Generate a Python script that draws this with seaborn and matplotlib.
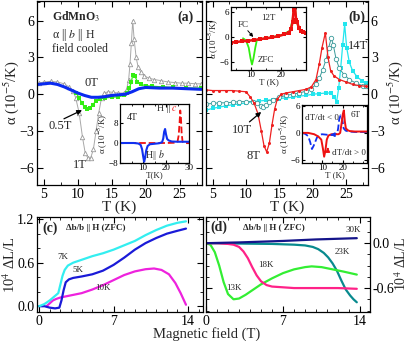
import numpy as np
import seaborn as sns
import matplotlib.pyplot as plt
from matplotlib.ticker import MultipleLocator, FixedLocator

# ---------------------------------------
# data
# ---------------------------------------
# (a) alpha || b || H, field cooled
T_0T = [4.2, 5, 6, 7, 8, 9, 10, 11, 12, 13, 14, 15, 16, 17, 18, 19, 20, 22, 24, 26, 28.2]
a_0T = [0.8, 0.85, 0.9, 0.8, 0.6, 0.35, 0.1, -0.1, -0.25, -0.25, -0.2, -0.1, -0.05, 0.0, 0.2, 0.45, 0.55, 0.5, 0.5, 0.45, 0.4]

T_05T = [9.8, 10.2, 10.6, 11.0, 11.4, 11.8, 12.2, 12.7, 13.3, 14, 15, 16, 16.8, 17.3, 17.6, 17.9, 18.1, 18.4, 18.8, 19.3, 20, 21, 22.5, 24, 26, 28.2]
a_05T = [0.1, -0.3, -0.7, -1.05, -1.2, -1.1, -0.85, -0.55, -0.4, -0.3, -0.25, -0.2, -0.1, 0.1, 0.5, 1.0, 1.6, 1.5, 1.0, 0.8, 0.7, 0.65, 0.6, 0.55, 0.5, 0.5]

T_1T = [4.3, 5, 6, 7, 8, 8.7, 9.3, 9.7, 10.2, 10.7, 11.1, 11.5, 11.9, 12.3, 12.7, 13.1, 13.5, 13.9, 14.5, 15.2, 16, 16.8, 17.2, 17.5, 17.7, 17.9, 18.1, 18.3, 18.6, 18.9, 19.3, 19.8, 20.5, 21.3, 22.3, 23.3, 24.3, 25.3, 26.3, 27.3, 28.2]
a_1T = [0.9, 1.0, 1.05, 1.0, 0.85, 0.6, 0.3, -0.3, -1.5, -3.5, -4.8, -5.2, -5.2, -4.5, -3.0, -1.5, -0.3, 0.1, 0.2, 0.15, 0.1, 0.1, 0.4, 1.2, 2.5, 4.2, 6.0, 4.5, 3.0, 2.2, 1.8, 1.5, 1.3, 1.2, 1.1, 1.0, 0.95, 0.9, 0.9, 0.85, 0.85]

# (a) inset, 4T
Ti_b = [0, 2, 4, 6, 8, 9, 9.6, 10.1, 10.5, 10.9, 11.4, 12, 13, 15, 17, 18.3, 18.8, 19.2, 19.6, 20.0, 20.5, 21.2, 22.5, 25, 27.5, 30]
ai_b = [0, 0, 0, 0, -0.2, -0.8, -2.5, -5.5, -7.5, -6, -3, -1.2, -0.5, -0.3, -0.1, 0.3, 1.8, 4.5, 5.6, 3.5, 1.6, 1.0, 0.6, 0.5, 0.5, 0.5]
Ti_c = [0, 5, 10, 15, 20, 24, 25, 25.5, 25.9, 26.2, 26.5, 26.8, 27.2, 28, 30]
ai_c = [0, 0, 0, 0, 0, 0.1, 0.5, 3, 8, 13, 10, 4, 0.5, 0, 0]

# (b) high fields
T_8T = [4, 5, 6, 7, 8, 9, 10, 10.6, 11.2, 11.8, 12.3, 12.7, 13.1, 13.5, 13.9, 14.3, 14.7, 15.3, 16, 17, 18, 19, 19.8, 20.5, 21.0, 21.4, 21.9, 22.3, 22.7, 23.2, 24, 25, 26, 27, 28]
a_8T = [0.35, 0.3, 0.3, 0.3, 0.3, 0.25, 0.2, -0.2, -0.7, -1.6, -3.0, -4.2, -4.7, -4.0, -2.5, -1.2, -0.4, 0.0, 0.1, 0.2, 0.3, 0.4, 0.6, 1.2, 2.5, 3.8, 5.0, 3.0, 1.9, 1.5, 1.2, 1.0, 0.8, 0.7, 0.65]

T_10T = [4, 5, 6, 7, 8, 9, 10, 11, 11.7, 12.2, 12.6, 13.0, 13.5, 14, 15, 16, 17, 18, 19, 19.8, 20.5, 21.0, 21.5, 22.0, 22.4, 22.8, 23.1, 23.5, 24, 24.7, 25.5, 26.5, 27.5, 28]
a_10T = [-0.8, -0.75, -0.7, -0.7, -0.65, -0.6, -0.6, -0.6, -0.75, -0.95, -1.05, -0.9, -0.6, -0.45, -0.25, -0.1, 0.0, 0.1, 0.25, 0.45, 0.8, 1.3, 2.0, 2.8, 3.8, 4.6, 4.0, 2.9, 2.1, 1.6, 1.2, 0.9, 0.7, 0.65]

T_14T = [4, 5, 6, 7, 8, 9, 10, 11, 12, 13, 14, 15, 16, 17, 18, 19, 20, 21, 22, 22.7, 23.2, 23.6, 23.9, 24.2, 24.5, 24.8, 25.1, 25.5, 26, 26.7, 27.4, 28]
a_14T = [-1.3, -1.15, -1.05, -0.95, -0.85, -0.8, -0.7, -0.6, -0.55, -0.5, -0.45, -0.35, -0.3, -0.25, -0.15, -0.1, 0.0, 0.05, 0.1, 0.1, -0.2, -0.6, 0.5, 2.1, 4.0, 5.7, 3.8, 2.6, 1.9, 1.4, 1.1, 0.9]

# (b) top inset, 12T
T_fc = [3.3, 5, 7, 9, 11, 13, 15, 17, 19, 21, 22.5, 23.3, 23.8, 24.2, 24.6, 25.0, 25.4, 25.9, 26.5, 27.3, 28.3]
a_fc = [-1.3, -1.2, -1.0, -0.9, -0.7, -0.5, -0.3, -0.1, 0.2, 0.6, 1.0, 1.8, 3.5, 6.5, 7.5, 4.0, 3.5, 2.1, 1.5, 1.1, 1.0]
T_zfc = [7.3, 8.3, 9.2, 9.8, 10.3, 10.8, 11.4, 11.9, 12.5, 15, 20, 23, 23.8, 24.3, 24.6, 25.0, 25.5, 26.5, 28.3]
a_zfc = [-0.3, -0.8, -2.5, -5, -6.5, -5, -2.5, -0.8, -0.5, -0.3, 0.4, 1.5, 4, 7, 7.5, 4, 3, 1.5, 1.0]

# (b) bottom inset, 6T
T_up = [0, 3, 6, 8, 9.5, 10.3, 10.9, 11.5, 12.2, 13, 14.5, 16, 18, 18.8, 19.6, 20.1, 20.6, 21.1, 21.6, 22.5, 23.5, 26, 29, 32]
a_up = [0, 0, -0.3, -0.8, -1.5, -3.5, -5.3, -4.0, -1.5, -0.6, -0.3, -0.3, -0.3, 0.0, 2.5, 4.2, 5.0, 2.5, 1.0, 0.6, 0.4, 0.3, 0.3, 0.3]
T_dn = [0, 1.5, 3, 4, 4.9, 5.8, 7.4, 8.5, 9.8, 12, 14, 16, 17.3, 17.8, 18.3, 19.0, 19.6, 20.0, 20.5, 21.5, 22.9, 26, 29, 32]
a_dn = [0, -0.2, -0.7, -2.0, -3.6, -2.8, -1.0, -0.5, -0.3, -0.4, -0.5, -0.4, -0.2, 1.0, 3.0, 3.9, 3.8, 2.5, 1.0, 0.5, 0.3, 0.2, 0.2, 0.2]

# (c) magnetostriction, ZFC
H_7K = [0, 0.5, 1.0, 1.4, 1.8, 2.0, 2.2, 2.4, 2.7, 3.2, 4, 5, 6, 7, 8, 9, 10, 11, 12, 13, 13.8]
L_7K = [0, 0.03, 0.08, 0.13, 0.18, 0.3, 0.42, 0.5, 0.56, 0.6, 0.64, 0.69, 0.73, 0.78, 0.84, 0.9, 0.98, 1.05, 1.11, 1.15, 1.17]
H_5K = [0, 0.5, 1.0, 1.5, 1.9, 2.1, 2.3, 2.5, 2.8, 3.2, 4, 5, 6, 7, 8, 9, 10, 11, 12, 13, 13.8]
L_5K = [0, 0, -0.02, -0.03, -0.02, 0.08, 0.22, 0.33, 0.37, 0.39, 0.41, 0.44, 0.49, 0.57, 0.67, 0.78, 0.87, 0.94, 1.0, 1.04, 1.07]
H_10K = [0.7, 1.0, 1.3, 1.6, 2.0, 3, 4, 5, 6, 7, 8, 9, 10, 10.8, 11.5, 12.2, 12.8, 13.3, 13.8]
L_10K = [0, 0.04, 0.08, 0.1, 0.12, 0.15, 0.18, 0.23, 0.29, 0.36, 0.43, 0.48, 0.51, 0.52, 0.5, 0.44, 0.32, 0.18, 0.02]

# (d)
H_30K = [0, 3, 7, 10, 13.7]
L_30K = [0, 0.01, 0.03, 0.05, 0.067]
H_13K = [0, 0.4, 0.8, 1.2, 1.6, 2.0, 2.5, 3.0, 3.6, 4.3, 5, 6, 7, 8, 9, 9.6, 10.5, 11.5, 12.5, 13.7]
L_13K = [0, -0.02, -0.12, -0.3, -0.52, -0.68, -0.75, -0.74, -0.69, -0.62, -0.55, -0.47, -0.4, -0.35, -0.32, -0.31, -0.32, -0.35, -0.38, -0.42]
H_18K = [0, 1, 2, 2.5, 3.0, 3.4, 3.8, 4.2, 4.6, 5.0, 5.5, 6, 7, 8, 10, 12, 13.7]
L_18K = [0, 0, -0.01, -0.02, -0.05, -0.11, -0.2, -0.32, -0.43, -0.51, -0.56, -0.58, -0.59, -0.6, -0.6, -0.6, -0.61]
H_23K = [0, 3, 6, 8, 9, 9.7, 10.2, 10.7, 11.1, 11.5, 11.9, 12.3, 12.7, 13.1, 13.4, 13.7]
L_23K = [0, -0.005, -0.01, -0.02, -0.03, -0.05, -0.08, -0.13, -0.19, -0.27, -0.37, -0.5, -0.62, -0.7, -0.75, -0.79]

# ---------------------------------------
# style
# ---------------------------------------
sns.set_style("ticks")
plt.rcParams["font.family"] = ["Liberation Serif", "DejaVu Serif"]
plt.rcParams["mathtext.fontset"] = "stix"
plt.rcParams["axes.linewidth"] = 0.9
plt.rcParams["axes.edgecolor"] = "black"

W, H = 409, 341
fig = plt.figure(figsize=(W / 100, H / 100), dpi=100)


def box(l, t, r, b):
    return [l / W, 1 - b / H, (r - l) / W, (b - t) / H]


def style(ax, size=10, major=4, minor=2):
    ax.tick_params(which="both", direction="in", top=True, right=True,
                   labelsize=size, pad=2, colors="black")
    ax.tick_params(which="major", length=major, width=0.8)
    ax.tick_params(which="minor", length=minor, width=0.6)


ax_a = fig.add_axes(box(37, 1, 202, 185))
ax_b = fig.add_axes(box(206, 1, 368, 185))
ax_c = fig.add_axes(box(37, 217, 203, 312))
ax_d = fig.add_axes(box(206, 217, 370, 312))

ylab_a = "α (10$^{-5}$/K)"

# ---------------------------------------
# (a)
# ---------------------------------------
sns.lineplot(x=T_1T, y=a_1T, ax=ax_a, color="#a8a8a8", linewidth=0.7, marker="^",
             markersize=3.2, markerfacecolor="white", markeredgecolor="#999999", markeredgewidth=0.6)
sns.lineplot(x=T_05T, y=a_05T, ax=ax_a, color="#33ee11", linewidth=0.9, marker="s",
             markersize=2.2, markeredgewidth=0)
sns.lineplot(x=T_0T, y=a_0T, ax=ax_a, color="#0a2af0", linewidth=2.2)
ax_a.set_xlim(4, 28.3)
ax_a.set_ylim(-7.4, 7.6)
ax_a.xaxis.set_major_locator(MultipleLocator(5))
ax_a.xaxis.set_minor_locator(MultipleLocator(2.5))
ax_a.yaxis.set_major_locator(MultipleLocator(3))
ax_a.yaxis.set_minor_locator(MultipleLocator(1.5))
style(ax_a)
ax_a.set_xlabel("T (K)", fontsize=11, labelpad=0)
ax_a.set_ylabel(ylab_a, fontsize=10.5, labelpad=-1)
ax_a.text(6.2, 6.3, r"GdMnO$_3$", fontsize=8.5, fontweight="bold", va="center")
ax_a.text(6.2, 4.8, r"α || $b$ || H", fontsize=8.5, va="center")
ax_a.text(6.2, 3.7, "field cooled", fontsize=8.5, va="center")
ax_a.text(25.8, 6.3, "(a)", fontsize=10, fontweight="bold", ha="center", va="center")
ax_a.text(12.0, 0.9, "0T", fontsize=9, ha="center", va="center")
ax_a.text(10.3, -5.8, "1T", fontsize=9, ha="center", va="center")
ax_a.text(7.4, -2.6, "0.5T", fontsize=9, ha="center", va="center")
ax_a.annotate("", xy=(11.0, -1.2), xytext=(7.6, -2.1),
              arrowprops=dict(arrowstyle="-|>", color="black", lw=0.9, mutation_scale=7))

# inset (a)
ia = fig.add_axes(box(120, 104, 189, 163))
sns.lineplot(x=Ti_c, y=ai_c, ax=ia, color="#ee1111", linewidth=1.3, linestyle="--")
sns.lineplot(x=Ti_b, y=ai_b, ax=ia, color="#1030f0", linewidth=1.5)
ia.set_xlim(0, 30)
ia.set_ylim(-8, 15.6)
ia.xaxis.set_major_locator(FixedLocator([10, 20, 30]))
ia.xaxis.set_minor_locator(MultipleLocator(5))
ia.yaxis.set_major_locator(MultipleLocator(8))
style(ia, size=6.5, major=2.5, minor=1.5)
ia.tick_params(pad=1)
ia.set_xlabel("T(K)", fontsize=6.5, labelpad=-1)
ia.set_ylabel(ylab_a, fontsize=6.5, labelpad=0)
ia.text(5.5, 10.4, "4T", fontsize=7, ha="center", va="center")
ia.text(16.0, 13.8, "H ||", fontsize=7, ha="left", va="center")
ia.text(22.3, 13.8, r"$c$", fontsize=7, ha="left", va="center", color="#ee1111")
ia.text(15.0, -4.8, r"H|| $b$", fontsize=7, ha="center", va="center")

# ---------------------------------------
# (b)
# ---------------------------------------
sns.lineplot(x=T_14T, y=a_14T, ax=ax_b, color="#22e6ee", linewidth=0.9, marker="s",
             markersize=2.2, markeredgewidth=0)
sns.lineplot(x=T_10T, y=a_10T, ax=ax_b, color="#3a9a9a", linewidth=0.7, marker="o",
             markersize=3.2, markerfacecolor="white", markeredgecolor="#3a9a9a", markeredgewidth=0.6)
sns.lineplot(x=T_8T, y=a_8T, ax=ax_b, color="#ee2020", linewidth=0.9, marker="o",
             markersize=2.2, markeredgewidth=0)
ax_b.set_xlim(4, 28.3)
ax_b.set_ylim(-7.4, 7.6)
ax_b.xaxis.set_major_locator(MultipleLocator(5))
ax_b.xaxis.set_minor_locator(MultipleLocator(2.5))
ax_b.yaxis.set_major_locator(MultipleLocator(3))
ax_b.yaxis.set_minor_locator(MultipleLocator(1.5))
style(ax_b)
ax_b.tick_params(labelleft=False, labelright=True)
ax_b.yaxis.set_label_position("right")
ax_b.set_xlabel("T (K)", fontsize=11, labelpad=0)
ax_b.set_ylabel(ylab_a, fontsize=10.5, labelpad=0, rotation=90)
ax_b.text(26.6, 6.3, "(b)", fontsize=10, fontweight="bold", ha="center", va="center")
ax_b.text(26.8, 3.9, "14T", fontsize=9, ha="center", va="center")
ax_b.text(9.4, -2.9, "10T", fontsize=9, ha="center", va="center")
ax_b.text(11.1, -5.0, "8T", fontsize=9, ha="center", va="center")
ax_b.annotate("", xy=(12.6, -1.3), xytext=(10.2, -2.4),
              arrowprops=dict(arrowstyle="-|>", color="black", lw=0.9, mutation_scale=7))

# inset (b) top, 12T
ib1 = fig.add_axes(box(231, 7, 306, 70))
sns.lineplot(x=T_zfc, y=a_zfc, ax=ib1, color="#33ee11", linewidth=1.3)
sns.lineplot(x=T_fc, y=a_fc, ax=ib1, color="#ee1111", linewidth=1.8, marker="s",
             markersize=2.6, markeredgewidth=0)
ib1.set_xlim(3.3, 28.3)
ib1.set_ylim(-7.8, 7.1)
ib1.xaxis.set_major_locator(FixedLocator([10, 20]))
ib1.xaxis.set_minor_locator(MultipleLocator(5))
ib1.yaxis.set_major_locator(MultipleLocator(6))
style(ib1, size=6.5, major=2.5, minor=1.5)
ib1.tick_params(pad=1)
ib1.set_xlabel("T (K)", fontsize=6.5, labelpad=-1)
ib1.set_ylabel(ylab_a, fontsize=6.5, labelpad=0)
ib1.text(15.6, 4.5, "12T", fontsize=6.5, ha="center", va="center")
ib1.text(7.3, 2.9, "FC", fontsize=6.5, ha="center", va="center")
ib1.text(14.8, -5.4, "ZFC", fontsize=6.5, ha="center", va="center")
ib1.annotate("", xy=(11.3, -0.5), xytext=(8.3, 2.0),
             arrowprops=dict(arrowstyle="-|>", color="black", lw=0.7, mutation_scale=5))

# inset (b) bottom, 6T
ib2 = fig.add_axes(box(302, 105, 367, 163))
sns.lineplot(x=T_dn, y=a_dn, ax=ib2, color="#1030f0", linewidth=1.3, linestyle="--")
sns.lineplot(x=T_up, y=a_up, ax=ib2, color="#ee1111", linewidth=1.4)
ib2.set_xlim(0, 32)
ib2.set_ylim(-6.7, 6.2)
ib2.xaxis.set_major_locator(FixedLocator([10, 20]))
ib2.xaxis.set_minor_locator(MultipleLocator(5))
ib2.yaxis.set_major_locator(MultipleLocator(6))
style(ib2, size=6.5, major=2.5, minor=1.5)
ib2.tick_params(pad=1)
ib2.set_xlabel("T (K)", fontsize=6.5, labelpad=-1)
ib2.set_ylabel(ylab_a, fontsize=6.5, labelpad=0)
ib2.text(10.0, 3.3, "dT/dt < 0", fontsize=6.5, ha="center", va="center")
ib2.text(26.5, 4.0, "6T", fontsize=6.5, ha="center", va="center")
ib2.text(23.0, -4.4, "dT/dt > 0", fontsize=6.5, ha="center", va="center")
ib2.annotate("", xy=(12.7, -2.6), xytext=(12.7, -4.2),
             arrowprops=dict(arrowstyle="-|>", color="#ee1111", lw=1.0, mutation_scale=6))
ib2.annotate("", xy=(12.5, -0.4), xytext=(16.0, -0.4),
             arrowprops=dict(arrowstyle="-|>", color="#1030f0", lw=1.0, mutation_scale=6))

# ---------------------------------------
# (c)
# ---------------------------------------
sns.lineplot(x=H_10K, y=L_10K, ax=ax_c, color="#ee22dd", linewidth=1.6)
sns.lineplot(x=H_5K, y=L_5K, ax=ax_c, color="#1a1ad8", linewidth=1.6)
sns.lineplot(x=H_7K, y=L_7K, ax=ax_c, color="#33eef0", linewidth=1.6)
ax_c.set_xlim(-0.2, 15.4)
ax_c.set_ylim(-0.08, 1.23)
ax_c.xaxis.set_major_locator(MultipleLocator(7))
ax_c.xaxis.set_minor_locator(MultipleLocator(1))
ax_c.yaxis.set_major_locator(MultipleLocator(0.6))
ax_c.yaxis.set_minor_locator(MultipleLocator(0.2))
ax_c.yaxis.set_major_formatter(plt.FormatStrFormatter("%.1f"))
style(ax_c)
ax_c.set_ylabel(r"10$^4$ ΔL/L", fontsize=10.5, labelpad=-1)
ax_c.text(0.3, 1.08, "(c)", fontsize=10, fontweight="bold", va="center")
ax_c.text(2.5, 1.08, "Δb/b || H (ZFC)", fontsize=6.5, fontweight="bold", va="center")
ax_c.text(2.2, 0.68, "7K", fontsize=6.5, ha="center", va="center")
ax_c.text(3.6, 0.5, "5K", fontsize=6.5, ha="center", va="center")
ax_c.text(6.0, 0.25, "10K", fontsize=6.5, ha="center", va="center")

# ---------------------------------------
# (d)
# ---------------------------------------
sns.lineplot(x=H_23K, y=L_23K, ax=ax_d, color="#088a8e", linewidth=1.6)
sns.lineplot(x=H_13K, y=L_13K, ax=ax_d, color="#33ee33", linewidth=1.6)
sns.lineplot(x=H_18K, y=L_18K, ax=ax_d, color="#ff2288", linewidth=1.6)
sns.lineplot(x=H_30K, y=L_30K, ax=ax_d, color="#14148a", linewidth=1.6)
ax_d.set_xlim(0, 14.9)
ax_d.set_ylim(-0.92, 0.35)
ax_d.xaxis.set_major_locator(MultipleLocator(7))
ax_d.xaxis.set_minor_locator(MultipleLocator(1))
ax_d.yaxis.set_major_locator(MultipleLocator(0.6))
ax_d.yaxis.set_minor_locator(MultipleLocator(0.15))
ax_d.yaxis.set_major_formatter(plt.FormatStrFormatter("%.1f"))
style(ax_d)
ax_d.tick_params(labelleft=False, labelright=True)
ax_d.yaxis.set_label_position("right")
ax_d.set_ylabel(r"10$^4$ ΔL/L", fontsize=10, labelpad=-1)
ax_d.text(0.4, 0.21, "(d)", fontsize=10, fontweight="bold", va="center")
ax_d.text(3.4, 0.2, "Δb/b || H ( ZFC)", fontsize=6.5, fontweight="bold", va="center")
ax_d.text(13.4, 0.17, "30K", fontsize=6.5, ha="center", va="center")
ax_d.text(12.4, -0.12, "23K", fontsize=6.5, ha="center", va="center")
ax_d.text(5.4, -0.29, "18K", fontsize=6.5, ha="center", va="center")
ax_d.text(2.5, -0.6, "13K", fontsize=6.5, ha="center", va="center")

fig.text(207 / W, 1 - 334 / H, "Magnetic field (T)", fontsize=10.5, ha="center", va="center")

fig.savefig("out.png", dpi=100)
